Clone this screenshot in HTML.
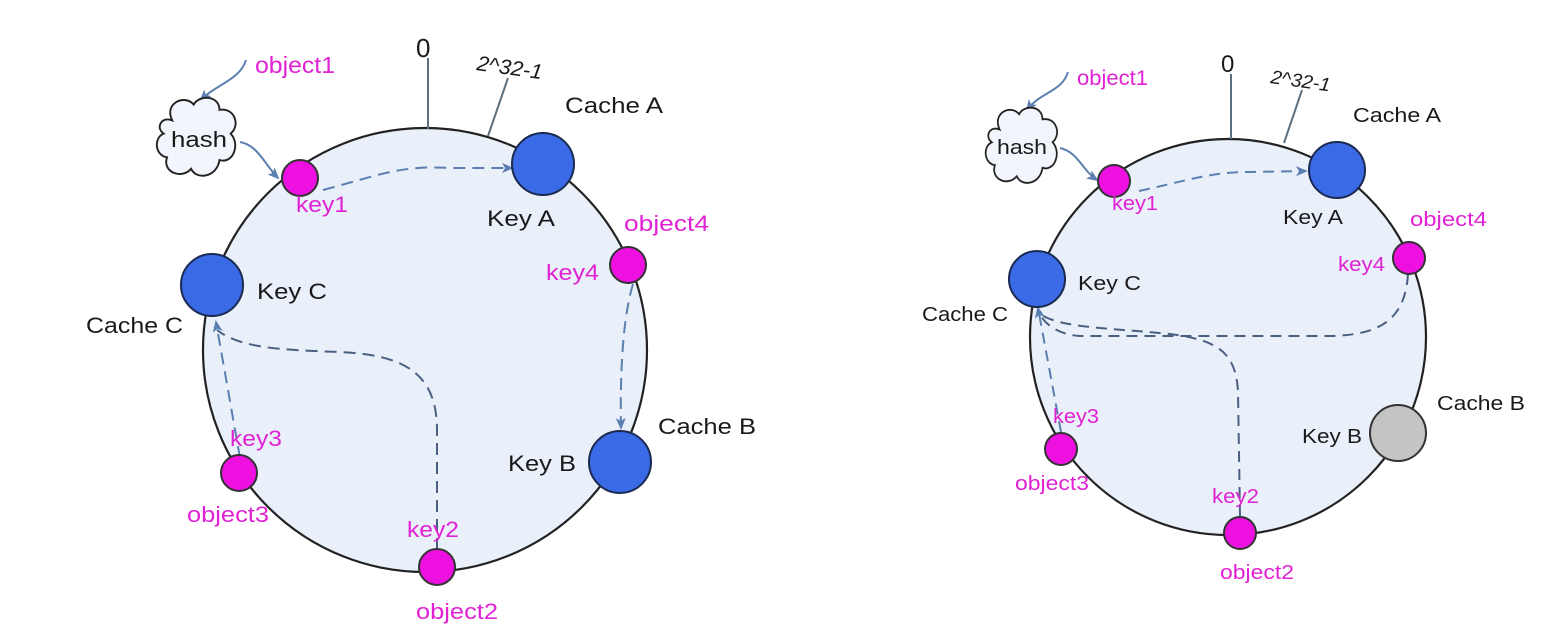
<!DOCTYPE html>
<html><head><meta charset="utf-8"><style>
html,body{margin:0;padding:0;background:#fff;}
svg{display:block;}
text{font-family:"Liberation Sans",Arial,sans-serif;}
.k{fill:#1a1a1a;}
.m{fill:#e022d4;}
</style></head><body>
<svg width="1543" height="640" viewBox="0 0 1543 640" xmlns="http://www.w3.org/2000/svg">
<defs>
<marker id="ar" markerWidth="12" markerHeight="10" refX="10" refY="5" orient="auto" markerUnits="userSpaceOnUse">
<path d="M0,0 L12,5 L0,10 L3,5 z" fill="#5b7fb0"/>
</marker>
<path id="cloud" d="M20,30 C10,10 35,0 45,12 C52,0 75,2 75,18 C92,15 100,35 88,45 C100,58 90,80 75,75 C72,95 48,98 42,85 C30,98 8,88 14,72 C0,70 -2,50 10,45 C0,38 8,25 20,30 z" fill="#f2f5fb" stroke="#222" stroke-width="2.2"/>
</defs>

<!-- LEFT -->
<circle cx="425" cy="350" r="222" fill="#eaf0fa" stroke="#222" stroke-width="2.2"/>
<line x1="428" y1="58" x2="428" y2="129" stroke="#5b7080" stroke-width="2"/>
<line x1="508" y1="78" x2="488" y2="136" stroke="#5b7080" stroke-width="2"/>
<text x="416" y="57" class="k" font-size="26">0</text>
<text x="476" y="70" class="k" font-size="21" font-style="italic" transform="rotate(8 476 70)" textLength="66" lengthAdjust="spacingAndGlyphs">2^32-1</text>
<text x="255" y="73" class="m" font-size="23" textLength="80" lengthAdjust="spacingAndGlyphs">object1</text>
<path d="M246,60 C240,80 215,85 201,100" fill="none" stroke="#5b7fb0" stroke-width="2" marker-end="url(#ar)"/>
<g transform="translate(155,94) scale(0.86,0.88)"><use href="#cloud"/></g>
<text x="199" y="147" class="k" font-size="22" text-anchor="middle" textLength="56" lengthAdjust="spacingAndGlyphs">hash</text>
<path d="M240,142 C258,145 265,165 278,178" fill="none" stroke="#5b7fb0" stroke-width="2" marker-end="url(#ar)"/>

<path d="M323,190 C380,175 400,165 450,168 L512,168" fill="none" stroke="#5b7fb0" stroke-width="2" stroke-dasharray="12,7" marker-end="url(#ar)"/>
<path d="M633,284 C622,320 620,380 621,428" fill="none" stroke="#5b7fb0" stroke-width="2" stroke-dasharray="12,7" marker-end="url(#ar)"/>
<path d="M240,458 L216,322" fill="none" stroke="#5b7fb0" stroke-width="2" stroke-dasharray="12,7" marker-end="url(#ar)"/>
<path d="M437,550 L437,430 C437,370 400,355 340,352 C280,350 240,348 217,330" fill="none" stroke="#4a6080" stroke-width="2" stroke-dasharray="12,7"/>

<circle cx="300" cy="178" r="18" fill="#ee10e0" stroke="#333" stroke-width="2"/>
<circle cx="543" cy="164" r="31" fill="#3a6ae6" stroke="#1a2a50" stroke-width="2"/>
<circle cx="628" cy="265" r="18" fill="#ee10e0" stroke="#333" stroke-width="2"/>
<circle cx="620" cy="462" r="31" fill="#3a6ae6" stroke="#1a2a50" stroke-width="2"/>
<circle cx="212" cy="285" r="31" fill="#3a6ae6" stroke="#1a2a50" stroke-width="2"/>
<circle cx="239" cy="473" r="18" fill="#ee10e0" stroke="#333" stroke-width="2"/>
<circle cx="437" cy="567" r="18" fill="#ee10e0" stroke="#333" stroke-width="2"/>

<text x="296" y="212" class="m" font-size="22" textLength="52" lengthAdjust="spacingAndGlyphs">key1</text>
<text x="565" y="113" class="k" font-size="22" textLength="98" lengthAdjust="spacingAndGlyphs">Cache A</text>
<text x="487" y="226" class="k" font-size="22" textLength="68" lengthAdjust="spacingAndGlyphs">Key A</text>
<text x="624" y="231" class="m" font-size="22" textLength="85" lengthAdjust="spacingAndGlyphs">object4</text>
<text x="546" y="280" class="m" font-size="22" textLength="53" lengthAdjust="spacingAndGlyphs">key4</text>
<text x="658" y="434" class="k" font-size="22" textLength="98" lengthAdjust="spacingAndGlyphs">Cache B</text>
<text x="508" y="471" class="k" font-size="22" textLength="68" lengthAdjust="spacingAndGlyphs">Key B</text>
<text x="257" y="299" class="k" font-size="22" textLength="70" lengthAdjust="spacingAndGlyphs">Key C</text>
<text x="86" y="333" class="k" font-size="22" textLength="97" lengthAdjust="spacingAndGlyphs">Cache C</text>
<text x="230" y="446" class="m" font-size="22" textLength="52" lengthAdjust="spacingAndGlyphs">key3</text>
<text x="187" y="522" class="m" font-size="22" textLength="82" lengthAdjust="spacingAndGlyphs">object3</text>
<text x="407" y="537" class="m" font-size="22" textLength="52" lengthAdjust="spacingAndGlyphs">key2</text>
<text x="416" y="619" class="m" font-size="22" textLength="82" lengthAdjust="spacingAndGlyphs">object2</text>

<!-- RIGHT -->
<circle cx="1228" cy="337" r="198" fill="#eaf0fa" stroke="#222" stroke-width="2.2"/>
<line x1="1231" y1="74" x2="1231" y2="139" stroke="#5b7080" stroke-width="2"/>
<line x1="1302" y1="90" x2="1284" y2="143" stroke="#5b7080" stroke-width="2"/>
<text x="1221" y="72" class="k" font-size="24">0</text>
<text x="1270" y="83" class="k" font-size="19" font-style="italic" transform="rotate(8 1270 83)" textLength="60" lengthAdjust="spacingAndGlyphs">2^32-1</text>
<text x="1077" y="85" class="m" font-size="21" textLength="71" lengthAdjust="spacingAndGlyphs">object1</text>
<path d="M1068,72 C1062,92 1040,92 1027,110" fill="none" stroke="#5b7fb0" stroke-width="2" marker-end="url(#ar)"/>
<g transform="translate(984,104) scale(0.78,0.85)"><use href="#cloud"/></g>
<text x="1022" y="154" class="k" font-size="20" text-anchor="middle" textLength="50" lengthAdjust="spacingAndGlyphs">hash</text>
<path d="M1060,148 C1078,152 1082,170 1097,180" fill="none" stroke="#5b7fb0" stroke-width="2" marker-end="url(#ar)"/>

<path d="M1139,191 C1190,180 1210,172 1250,172 L1306,171" fill="none" stroke="#5b7fb0" stroke-width="2" stroke-dasharray="11,7" marker-end="url(#ar)"/>
<path d="M1408,274 C1405,320 1380,335 1330,336 L1080,336 C1060,335 1045,325 1040,314" fill="none" stroke="#4a6080" stroke-width="2" stroke-dasharray="11,7"/>
<path d="M1061,432 L1038,308" fill="none" stroke="#5b7fb0" stroke-width="2" stroke-dasharray="11,7" marker-end="url(#ar)"/>
<path d="M1240,516 L1238,392 C1236,350 1215,340 1170,334 C1110,328 1060,328 1040,314" fill="none" stroke="#4a6080" stroke-width="2" stroke-dasharray="11,7"/>

<circle cx="1114" cy="181" r="16" fill="#ee10e0" stroke="#333" stroke-width="2"/>
<circle cx="1337" cy="170" r="28" fill="#3a6ae6" stroke="#1a2a50" stroke-width="2"/>
<circle cx="1409" cy="258" r="16" fill="#ee10e0" stroke="#333" stroke-width="2"/>
<circle cx="1398" cy="433" r="28" fill="#c4c4c4" stroke="#333" stroke-width="2"/>
<circle cx="1037" cy="279" r="28" fill="#3a6ae6" stroke="#1a2a50" stroke-width="2"/>
<circle cx="1061" cy="449" r="16" fill="#ee10e0" stroke="#333" stroke-width="2"/>
<circle cx="1240" cy="533" r="16" fill="#ee10e0" stroke="#333" stroke-width="2"/>

<text x="1112" y="210" class="m" font-size="20" textLength="46" lengthAdjust="spacingAndGlyphs">key1</text>
<text x="1353" y="122" class="k" font-size="20" textLength="88" lengthAdjust="spacingAndGlyphs">Cache A</text>
<text x="1283" y="224" class="k" font-size="20" textLength="60" lengthAdjust="spacingAndGlyphs">Key A</text>
<text x="1410" y="226" class="m" font-size="20" textLength="77" lengthAdjust="spacingAndGlyphs">object4</text>
<text x="1338" y="271" class="m" font-size="20" textLength="47" lengthAdjust="spacingAndGlyphs">key4</text>
<text x="1437" y="410" class="k" font-size="20" textLength="88" lengthAdjust="spacingAndGlyphs">Cache B</text>
<text x="1302" y="443" class="k" font-size="20" textLength="60" lengthAdjust="spacingAndGlyphs">Key B</text>
<text x="1078" y="290" class="k" font-size="20" textLength="63" lengthAdjust="spacingAndGlyphs">Key C</text>
<text x="922" y="321" class="k" font-size="20" textLength="86" lengthAdjust="spacingAndGlyphs">Cache C</text>
<text x="1053" y="423" class="m" font-size="20" textLength="46" lengthAdjust="spacingAndGlyphs">key3</text>
<text x="1015" y="490" class="m" font-size="20" textLength="74" lengthAdjust="spacingAndGlyphs">object3</text>
<text x="1212" y="503" class="m" font-size="20" textLength="47" lengthAdjust="spacingAndGlyphs">key2</text>
<text x="1220" y="579" class="m" font-size="20" textLength="74" lengthAdjust="spacingAndGlyphs">object2</text>
</svg>
</body></html>
